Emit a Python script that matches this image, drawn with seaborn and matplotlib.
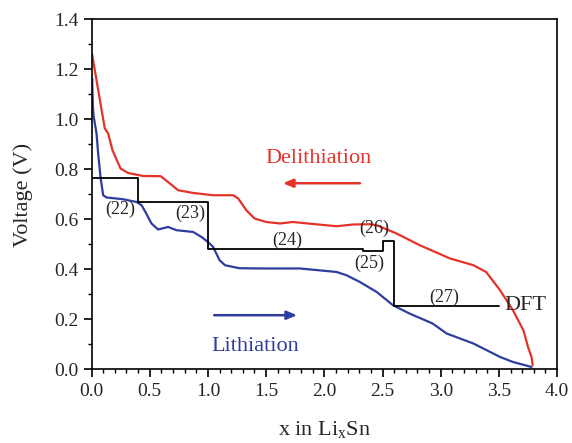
import numpy as np
import pandas as pd
import matplotlib
matplotlib.use("Agg")
import matplotlib.pyplot as plt
import seaborn as sns

# Delithiation (red) curve
deli_x = [0.005, 0.043, 0.077, 0.114, 0.143, 0.18, 0.249, 0.314, 0.443, 0.595, 0.673, 0.744,
          0.873, 1.045, 1.217, 1.26, 1.33, 1.40, 1.50, 1.62, 1.73, 1.90, 2.105, 2.25, 2.39, 2.45,
          2.62, 2.82, 3.08, 3.28, 3.39, 3.51, 3.62, 3.71, 3.75, 3.78, 3.79]
deli_v = [1.261, 1.157, 1.064, 0.964, 0.944, 0.877, 0.804, 0.786, 0.774, 0.773, 0.744, 0.717,
          0.706, 0.697, 0.697, 0.684, 0.637, 0.604, 0.590, 0.584, 0.590, 0.582, 0.573, 0.580, 0.581, 0.577,
          0.544, 0.497, 0.444, 0.417, 0.390, 0.317, 0.237, 0.157, 0.090, 0.050, 0.017]

# Lithiation (blue) curve
li_x = [0.0, 0.005, 0.012, 0.017, 0.043, 0.057, 0.077, 0.10, 0.129, 0.27, 0.387, 0.43, 0.47,
        0.515, 0.572, 0.658, 0.73, 0.873, 0.945, 1.0, 1.045, 1.10, 1.147, 1.27, 1.446, 1.79,
        2.105, 2.19, 2.305, 2.45, 2.59, 2.73, 2.93, 3.05, 3.28, 3.51, 3.62, 3.78]
li_v = [1.11, 1.164, 1.05, 1.017, 0.944, 0.864, 0.770, 0.697, 0.688, 0.681, 0.670, 0.657, 0.624,
        0.584, 0.560, 0.570, 0.557, 0.550, 0.530, 0.510, 0.490, 0.437, 0.417, 0.405, 0.404, 0.404,
        0.390, 0.377, 0.350, 0.310, 0.257, 0.224, 0.184, 0.144, 0.104, 0.050, 0.030, 0.010]

# DFT step levels
dft_x = [0.0, 0.4, 1.0, 2.33, 2.5, 2.6, 3.5]
dft_v = [0.764, 0.670, 0.481, 0.473, 0.514, 0.254, 0.254]

step_labels = ["(22)", "(23)", "(24)", "(25)", "(26)", "(27)"]
step_label_x = [0.244, 0.845, 1.68, 2.39, 2.43, 3.03]
step_label_v = [0.641, 0.625, 0.517, 0.425, 0.565, 0.29]

x_ticks = [0.0, 0.5, 1.0, 1.5, 2.0, 2.5, 3.0, 3.5, 4.0]
y_ticks = [0.0, 0.2, 0.4, 0.6, 0.8, 1.0, 1.2, 1.4]

sns.set_style("ticks")
plt.rcParams["font.family"] = ["Liberation Serif", "DejaVu Serif"]
plt.rcParams["mathtext.fontset"] = "custom"
plt.rcParams["mathtext.rm"] = "Liberation Serif"
plt.rcParams["mathtext.it"] = "Liberation Serif:italic"

RED = "#e5332a"
BLUE = "#2f3d9e"

fig = plt.figure(figsize=(5.72, 4.43), dpi=100)
ax = fig.add_axes([0.160, 0.166, 0.814, 0.790])

df_d = pd.DataFrame({"x": deli_x, "v": deli_v})
df_l = pd.DataFrame({"x": li_x, "v": li_v})
df_s = pd.DataFrame({"x": dft_x, "v": dft_v})

sns.lineplot(data=df_d, x="x", y="v", sort=False, color=RED, lw=1.6, ax=ax, estimator=None)
sns.lineplot(data=df_l, x="x", y="v", sort=False, color=BLUE, lw=1.6, ax=ax, estimator=None)
sns.lineplot(data=df_s, x="x", y="v", sort=False, color="black", lw=1.3, ax=ax,
             estimator=None, drawstyle="steps-post")

for lab, lx, lv in zip(step_labels, step_label_x, step_label_v):
    ax.text(lx, lv, lab, ha="center", va="center", fontsize=13)
ax.text(3.55, 0.254, "DFT", ha="left", va="center", fontsize=16)

ax.text(1.95, 0.845, "Delithiation", color=RED, ha="center", va="center", fontsize=16)
ax.annotate("", xy=(1.62, 0.745), xytext=(2.33, 0.745),
            arrowprops=dict(arrowstyle="-|>,head_length=0.6,head_width=0.25", color=RED, lw=1.8))
ax.text(1.41, 0.093, "Lithiation", color=BLUE, ha="center", va="center", fontsize=16)
ax.annotate("", xy=(1.79, 0.217), xytext=(1.03, 0.217),
            arrowprops=dict(arrowstyle="-|>,head_length=0.6,head_width=0.25", color=BLUE, lw=1.8))

ax.set_xlim(0, 4.0)
ax.set_ylim(0, 1.4)
ax.set_xticks(x_ticks)
ax.set_yticks(y_ticks)
ax.set_xticklabels([f"{t:.1f}" for t in x_ticks])
ax.set_yticklabels([f"{t:.1f}" for t in y_ticks])
ax.xaxis.set_minor_locator(matplotlib.ticker.MultipleLocator(0.1))
ax.yaxis.set_minor_locator(matplotlib.ticker.MultipleLocator(0.1))
ax.tick_params(which="major", direction="out", length=6, width=1.2, labelsize=14, color="black")
ax.tick_params(which="minor", direction="out", length=3, width=1.0, color="black")
for s in ax.spines.values():
    s.set_visible(True)
    s.set_linewidth(1.2)
    s.set_color("black")

ax.set_xlabel(r"x in Li$_{\mathrm{x}}$Sn", fontsize=16, labelpad=14)
ax.set_ylabel("Voltage (V)", fontsize=16, labelpad=15)

fig.savefig("out.png", dpi=100)
